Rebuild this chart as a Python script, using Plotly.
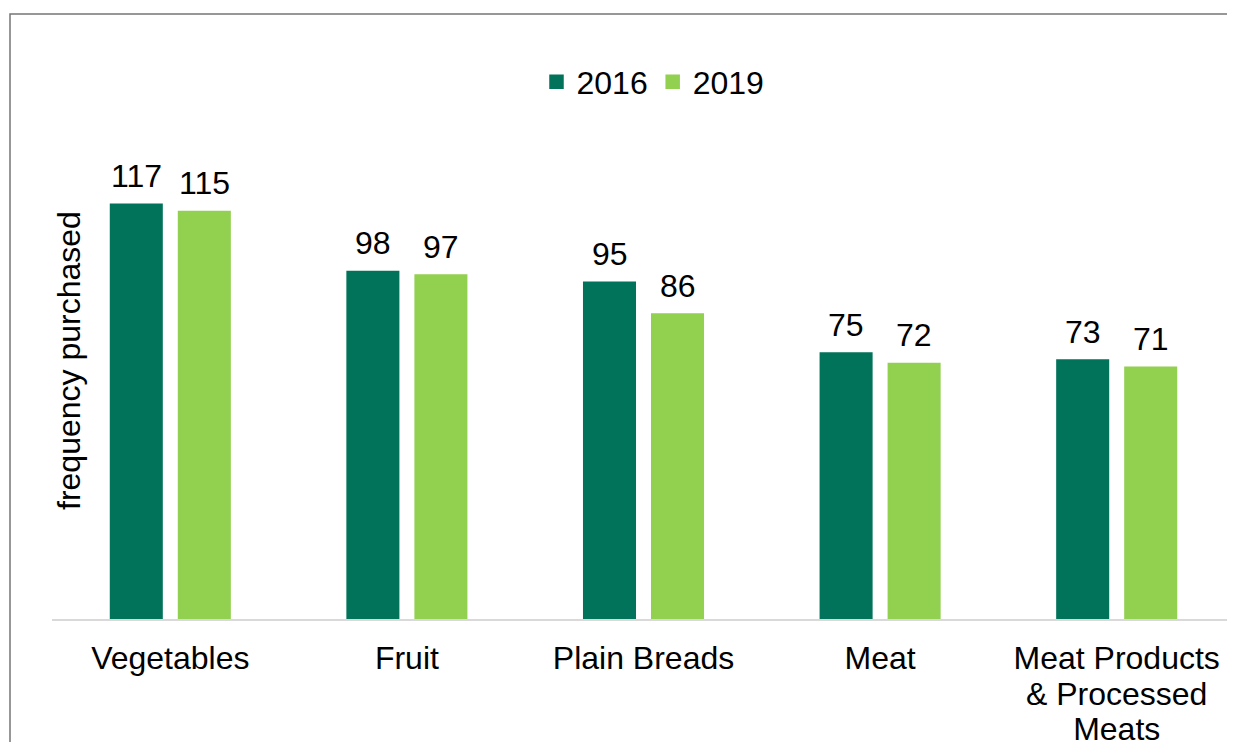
import plotly.graph_objects as go

categories = ["Vegetables", "Fruit", "Plain Breads", "Meat", "Meat Products<br>& Processed<br>Meats"]
series_names = ["2016", "2019"]
values_2016 = [117, 98, 95, 75, 73]
values_2019 = [115, 97, 86, 72, 71]
colors = ["#00735A", "#92D050"]
y_title = "frequency purchased"

FONT = "Liberation Sans, Arial, sans-serif"
FS = 32
# page body has an 8px margin, so the figure is drawn 8px smaller and offset
OFF = 8
W, H = 1235 - OFF, 742 - OFF
ML, MR, MT, MB = 52 - OFF, 0, 120 - OFF, 123
plot_w = W - ML - MR
plot_h = H - MT - MB


def px_x(p):
    return (p - OFF - ML) / plot_w


def px_y(p):
    return (H - MB - (p - OFF)) / plot_h


fig = go.Figure()
for name, vals, col in zip(series_names, [values_2016, values_2019], colors):
    fig.add_trace(go.Bar(
        x=categories, y=vals, name=name,
        marker=dict(color=col, line=dict(width=2.5, color=col)),
        hoverinfo="x+y+name",
    ))

# value labels
shifts = [-34, 34]
for vals, sh in zip([values_2016, values_2019], shifts):
    for c, v in zip(categories, vals):
        fig.add_annotation(
            x=c, y=v, xref="x", yref="y", text=str(v), showarrow=False,
            xshift=sh, yshift=9, yanchor="bottom",
            font=dict(family=FONT, size=FS, color="#000000"),
        )

# y axis title
fig.add_annotation(
    text=y_title, textangle=-90, showarrow=False,
    xref="paper", yref="paper",
    x=px_x(69), y=px_y(361),
    xanchor="center", yanchor="middle",
    font=dict(family=FONT, size=FS, color="#000000"),
)

# outer frame (top & left visible)
fig.add_shape(
    type="rect", xref="paper", yref="paper",
    x0=px_x(10), x1=1.2,
    y0=-1.0, y1=px_y(14),
    line=dict(color="#767676", width=1.5), fillcolor="rgba(0,0,0,0)",
    layer="below",
)

# tick labels: smaller base font gives tighter line spacing, spans restore size
ticktext = ['<span style="font-size:%dpx">' % FS + c.replace("<br>", "</span><br><span style=\"font-size:%dpx\">" % FS) + "</span>" for c in categories]

fig.update_layout(
    width=W, height=H,
    margin=dict(l=ML, r=MR, t=MT, b=MB, autoexpand=False),
    paper_bgcolor="white", plot_bgcolor="white",
    barmode="group", bargap=0.425, bargroupgap=0.257,
    font=dict(family=FONT, size=FS, color="#000000"),
    showlegend=True,
    legend=dict(
        orientation="h", x=px_x(653), xanchor="center",
        y=px_y(82), yanchor="middle",
        font=dict(family=FONT, size=FS, color="#000000"),
        bgcolor="rgba(0,0,0,0)", itemclick=False,
    ),
    xaxis=dict(
        range=[-0.5, 4.5], showgrid=False, zeroline=False,
        showline=True, linecolor="#D9D9D9", linewidth=1.5,
        ticks="", tickfont=dict(family=FONT, size=27.5, color="#000000"),
        tickmode="array", tickvals=categories, ticktext=ticktext,
        ticklabelstandoff=15,
        fixedrange=True,
    ),
    yaxis=dict(
        range=[0, plot_h / 3.54], showgrid=False, zeroline=False,
        showline=False, showticklabels=False, ticks="", fixedrange=True,
    ),
)

fig.write_html("out.html")
